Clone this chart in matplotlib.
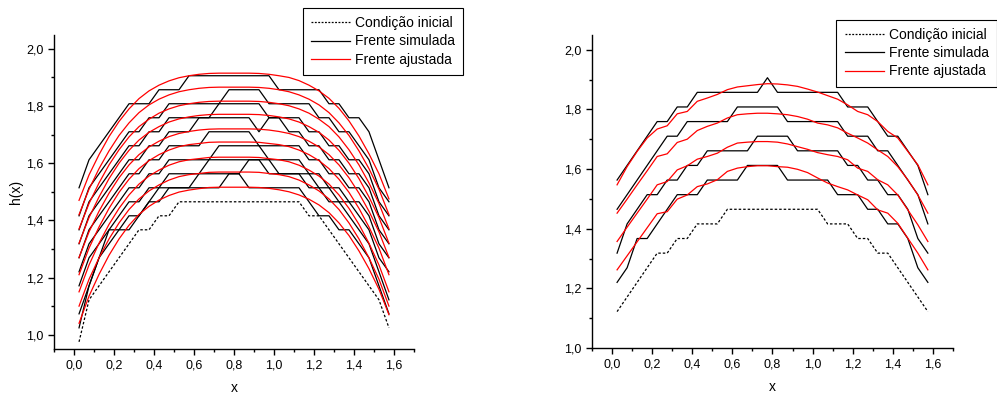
import matplotlib
matplotlib.use('Agg')
import matplotlib.pyplot as plt
from matplotlib.ticker import MultipleLocator, FuncFormatter
from matplotlib.lines import Line2D

plt.rcParams['font.family'] = ['Liberation Sans', 'DejaVu Sans']

# malha em x (mesma nos dois painéis)
x = [0.025, 0.075, 0.125, 0.175, 0.225, 0.275, 0.325, 0.375, 0.425, 0.475,
     0.525, 0.575, 0.625, 0.675, 0.725, 0.775, 0.825, 0.875, 0.925, 0.975,
     1.025, 1.075, 1.125, 1.175, 1.225, 1.275, 1.325, 1.375, 1.425, 1.475,
     1.525, 1.575]

# ---------- painel esquerdo ----------
inicial_esq = [0.975, 1.122, 1.171, 1.220, 1.269, 1.318, 1.367, 1.367, 1.416, 1.416,
               1.465, 1.465, 1.465, 1.465, 1.465, 1.465, 1.465, 1.465, 1.465, 1.465,
               1.465, 1.465, 1.465, 1.416, 1.416, 1.367, 1.318, 1.269, 1.220, 1.171,
               1.122, 1.024]

sim_esq = [
    [1.024, 1.171, 1.269, 1.367, 1.367, 1.367, 1.416, 1.465, 1.514, 1.514, 1.514, 1.514, 1.514, 1.514, 1.514, 1.563,
     1.563, 1.514, 1.514, 1.514, 1.514, 1.514, 1.514, 1.465, 1.416, 1.416, 1.367, 1.367, 1.318, 1.269, 1.171, 1.073],
    [1.073, 1.171, 1.269, 1.318, 1.367, 1.416, 1.416, 1.465, 1.465, 1.514, 1.514, 1.514, 1.563, 1.563, 1.563, 1.563,
     1.563, 1.612, 1.612, 1.563, 1.563, 1.563, 1.563, 1.514, 1.514, 1.465, 1.465, 1.416, 1.367, 1.318, 1.220, 1.122],
    [1.171, 1.269, 1.318, 1.367, 1.416, 1.465, 1.465, 1.514, 1.514, 1.563, 1.563, 1.563, 1.563, 1.612, 1.612, 1.612,
     1.612, 1.612, 1.612, 1.612, 1.563, 1.563, 1.563, 1.563, 1.514, 1.514, 1.465, 1.465, 1.416, 1.367, 1.269, 1.220],
    [1.220, 1.318, 1.367, 1.416, 1.465, 1.514, 1.514, 1.563, 1.563, 1.612, 1.612, 1.612, 1.612, 1.612, 1.661, 1.661,
     1.661, 1.661, 1.661, 1.612, 1.612, 1.612, 1.612, 1.563, 1.563, 1.514, 1.514, 1.465, 1.465, 1.416, 1.318, 1.269],
    [1.269, 1.367, 1.416, 1.465, 1.514, 1.563, 1.563, 1.612, 1.612, 1.661, 1.661, 1.661, 1.661, 1.710, 1.710, 1.710,
     1.710, 1.710, 1.661, 1.661, 1.661, 1.661, 1.661, 1.612, 1.612, 1.563, 1.563, 1.514, 1.514, 1.465, 1.367, 1.318],
    [1.318, 1.416, 1.465, 1.514, 1.563, 1.612, 1.612, 1.661, 1.661, 1.710, 1.710, 1.710, 1.759, 1.759, 1.759, 1.759,
     1.759, 1.759, 1.710, 1.759, 1.759, 1.710, 1.710, 1.661, 1.661, 1.612, 1.612, 1.563, 1.563, 1.514, 1.416, 1.367],
    [1.367, 1.465, 1.514, 1.563, 1.612, 1.661, 1.661, 1.710, 1.710, 1.759, 1.759, 1.759, 1.759, 1.759, 1.808, 1.808,
     1.808, 1.808, 1.808, 1.759, 1.759, 1.759, 1.759, 1.710, 1.710, 1.661, 1.661, 1.612, 1.612, 1.563, 1.465, 1.416],
    [1.416, 1.514, 1.563, 1.612, 1.661, 1.710, 1.710, 1.759, 1.759, 1.808, 1.808, 1.808, 1.808, 1.808, 1.808, 1.857,
     1.857, 1.857, 1.857, 1.808, 1.808, 1.808, 1.808, 1.808, 1.759, 1.759, 1.710, 1.710, 1.661, 1.612, 1.514, 1.465],
    [1.514, 1.612, 1.661, 1.710, 1.759, 1.808, 1.808, 1.808, 1.857, 1.857, 1.857, 1.906, 1.906, 1.906, 1.906, 1.906,
     1.906, 1.906, 1.906, 1.906, 1.857, 1.857, 1.857, 1.857, 1.857, 1.808, 1.808, 1.759, 1.759, 1.710, 1.612, 1.514],
]

ajuste_esq = [
    [1.040, 1.135, 1.211, 1.278, 1.335, 1.383, 1.421, 1.449, 1.471, 1.487, 1.499, 1.506, 1.511, 1.515, 1.516, 1.516,
     1.516, 1.516, 1.515, 1.512, 1.507, 1.500, 1.489, 1.474, 1.454, 1.427, 1.391, 1.347, 1.293, 1.231, 1.159, 1.070],
    [1.100, 1.194, 1.269, 1.335, 1.391, 1.438, 1.475, 1.503, 1.524, 1.541, 1.553, 1.560, 1.564, 1.568, 1.569, 1.569,
     1.569, 1.569, 1.568, 1.564, 1.560, 1.553, 1.541, 1.524, 1.503, 1.475, 1.438, 1.391, 1.335, 1.269, 1.194, 1.100],
    [1.150, 1.244, 1.320, 1.386, 1.442, 1.489, 1.527, 1.555, 1.576, 1.593, 1.605, 1.612, 1.616, 1.620, 1.621, 1.621,
     1.621, 1.621, 1.620, 1.616, 1.612, 1.605, 1.593, 1.576, 1.555, 1.527, 1.489, 1.442, 1.386, 1.320, 1.244, 1.150],
    [1.210, 1.303, 1.377, 1.442, 1.498, 1.544, 1.581, 1.609, 1.630, 1.646, 1.658, 1.665, 1.669, 1.673, 1.674, 1.674,
     1.674, 1.674, 1.673, 1.669, 1.665, 1.658, 1.646, 1.630, 1.609, 1.581, 1.544, 1.498, 1.442, 1.377, 1.303, 1.210],
    [1.270, 1.360, 1.432, 1.495, 1.549, 1.594, 1.630, 1.657, 1.677, 1.693, 1.704, 1.711, 1.716, 1.719, 1.720, 1.720,
     1.720, 1.720, 1.719, 1.716, 1.711, 1.704, 1.693, 1.677, 1.657, 1.630, 1.594, 1.549, 1.495, 1.432, 1.360, 1.270],
    [1.320, 1.410, 1.482, 1.546, 1.600, 1.645, 1.681, 1.708, 1.728, 1.744, 1.755, 1.762, 1.767, 1.770, 1.771, 1.771,
     1.771, 1.771, 1.770, 1.767, 1.762, 1.755, 1.744, 1.728, 1.708, 1.681, 1.645, 1.600, 1.546, 1.482, 1.410, 1.320],
    [1.370, 1.459, 1.531, 1.594, 1.647, 1.692, 1.728, 1.754, 1.775, 1.790, 1.801, 1.808, 1.813, 1.816, 1.817, 1.817,
     1.817, 1.817, 1.816, 1.813, 1.808, 1.801, 1.790, 1.775, 1.754, 1.728, 1.692, 1.647, 1.594, 1.531, 1.459, 1.370],
    [1.420, 1.509, 1.581, 1.643, 1.697, 1.741, 1.777, 1.804, 1.824, 1.839, 1.850, 1.857, 1.862, 1.865, 1.866, 1.866,
     1.866, 1.866, 1.865, 1.862, 1.857, 1.850, 1.839, 1.824, 1.804, 1.777, 1.741, 1.697, 1.643, 1.581, 1.509, 1.420],
    [1.470, 1.559, 1.630, 1.693, 1.746, 1.790, 1.826, 1.853, 1.873, 1.888, 1.899, 1.906, 1.911, 1.914, 1.915, 1.915,
     1.915, 1.915, 1.914, 1.911, 1.906, 1.900, 1.889, 1.873, 1.853, 1.827, 1.792, 1.748, 1.695, 1.633, 1.563, 1.475],
]

# ---------- painel direito ----------
inicial_dir = [1.122, 1.171, 1.220, 1.269, 1.318, 1.318, 1.367, 1.367, 1.416, 1.416,
               1.416, 1.465, 1.465, 1.465, 1.465, 1.465, 1.465, 1.465, 1.465, 1.465,
               1.465, 1.416, 1.416, 1.416, 1.367, 1.367, 1.318, 1.318, 1.269, 1.220,
               1.171, 1.122]

sim_dir = [
    [1.220, 1.269, 1.367, 1.367, 1.416, 1.465, 1.514, 1.514, 1.514, 1.563, 1.563, 1.563, 1.563, 1.612, 1.612, 1.612,
     1.612, 1.563, 1.563, 1.563, 1.563, 1.563, 1.514, 1.514, 1.514, 1.465, 1.465, 1.416, 1.416, 1.367, 1.269, 1.220],
    [1.318, 1.416, 1.465, 1.514, 1.514, 1.563, 1.563, 1.612, 1.612, 1.661, 1.661, 1.661, 1.661, 1.661, 1.710, 1.710,
     1.710, 1.710, 1.661, 1.661, 1.661, 1.661, 1.661, 1.612, 1.612, 1.563, 1.563, 1.514, 1.514, 1.465, 1.367, 1.318],
    [1.465, 1.514, 1.563, 1.612, 1.661, 1.710, 1.710, 1.759, 1.759, 1.759, 1.759, 1.759, 1.808, 1.808, 1.808, 1.808,
     1.808, 1.759, 1.759, 1.759, 1.759, 1.759, 1.759, 1.710, 1.710, 1.710, 1.661, 1.661, 1.612, 1.563, 1.514, 1.416],
    [1.563, 1.612, 1.661, 1.710, 1.759, 1.759, 1.808, 1.808, 1.857, 1.857, 1.857, 1.857, 1.857, 1.857, 1.857, 1.906,
     1.857, 1.857, 1.857, 1.857, 1.857, 1.857, 1.857, 1.808, 1.808, 1.808, 1.759, 1.710, 1.710, 1.661, 1.612, 1.514],
]

ajuste_dir = [
    [1.262, 1.309, 1.356, 1.403, 1.450, 1.457, 1.499, 1.513, 1.541, 1.550, 1.564, 1.592, 1.603, 1.608, 1.611, 1.611,
     1.608, 1.606, 1.599, 1.588, 1.570, 1.553, 1.541, 1.530, 1.513, 1.497, 1.463, 1.452, 1.418, 1.368, 1.318, 1.262],
    [1.357, 1.405, 1.452, 1.499, 1.547, 1.558, 1.597, 1.611, 1.633, 1.642, 1.653, 1.673, 1.687, 1.690, 1.692, 1.692,
     1.690, 1.684, 1.675, 1.666, 1.655, 1.648, 1.642, 1.631, 1.603, 1.592, 1.564, 1.547, 1.513, 1.463, 1.413, 1.357],
    [1.452, 1.499, 1.547, 1.594, 1.642, 1.651, 1.689, 1.700, 1.729, 1.743, 1.754, 1.771, 1.782, 1.785, 1.787, 1.787,
     1.785, 1.782, 1.776, 1.767, 1.754, 1.748, 1.738, 1.720, 1.704, 1.687, 1.664, 1.642, 1.608, 1.564, 1.513, 1.452],
    [1.547, 1.608, 1.659, 1.704, 1.734, 1.745, 1.785, 1.793, 1.827, 1.838, 1.850, 1.866, 1.875, 1.879, 1.883, 1.886,
     1.885, 1.882, 1.877, 1.868, 1.858, 1.846, 1.834, 1.815, 1.793, 1.782, 1.759, 1.726, 1.704, 1.659, 1.614, 1.547],
]

legendas = ['Condição inicial', 'Frente simulada', 'Frente ajustada']


def virgula(v, pos):
    return f'{v:.1f}'.replace('.', ',')


def estilo(ax, ymin, ymax):
    ax.set_xlim(-0.1, 1.7)
    ax.set_ylim(ymin, ymax)
    ax.spines['top'].set_visible(False)
    ax.spines['right'].set_visible(False)
    for s in ('left', 'bottom'):
        ax.spines[s].set_linewidth(1.0)
    ax.xaxis.set_major_locator(MultipleLocator(0.2))
    ax.xaxis.set_minor_locator(MultipleLocator(0.1))
    ax.yaxis.set_major_locator(MultipleLocator(0.2))
    ax.yaxis.set_minor_locator(MultipleLocator(0.1))
    ax.xaxis.set_major_formatter(FuncFormatter(virgula))
    ax.yaxis.set_major_formatter(FuncFormatter(virgula))
    ax.tick_params(which='major', direction='out', length=4, width=1.0, labelsize=9)
    ax.tick_params(which='minor', direction='out', length=2.5, width=1.0)
    ax.set_xlabel('x', fontsize=10, labelpad=7)


def desenhar(ax, inicial, simuladas, ajustadas):
    ax.plot(x, inicial, color='black', lw=0.9, linestyle=(0, (2, 1.6)))
    for y in simuladas:
        ax.plot(x, y, color='black', lw=0.9)
    for y in ajustadas:
        ax.plot(x, y, color='#ff0000', lw=0.9)


fig = plt.figure(figsize=(9.97, 3.96), dpi=100)
ax1 = fig.add_axes([0.0542, 0.1187, 0.361, 0.794])
ax2 = fig.add_axes([0.5938, 0.1212, 0.362, 0.791])

desenhar(ax1, inicial_esq, sim_esq, ajuste_esq)
desenhar(ax2, inicial_dir, sim_dir, ajuste_dir)
estilo(ax1, 0.95, 2.05)
estilo(ax2, 1.0, 2.05)
ax1.set_ylabel('h(x)', fontsize=10, labelpad=2)

alcas = [Line2D([], [], color='black', lw=0.9, linestyle=(0, (1.5, 1.2))),
         Line2D([], [], color='black', lw=0.9),
         Line2D([], [], color='#ff0000', lw=0.9)]

for ax, x0, y0, hl in [(ax1, 0.3036, 0.980, 2.8), (ax2, 0.839, 0.950, 2.8)]:
    leg = ax.legend(alcas, legendas, loc='upper left', bbox_to_anchor=(x0, y0),
                    bbox_transform=fig.transFigure, fontsize=10, frameon=True,
                    fancybox=False, edgecolor='black', framealpha=1,
                    handlelength=hl, handletextpad=0.35, borderpad=0.6,
                    labelspacing=0.3, borderaxespad=0)
    leg.get_frame().set_linewidth(0.8)

fig.savefig('out.png', dpi=100)
